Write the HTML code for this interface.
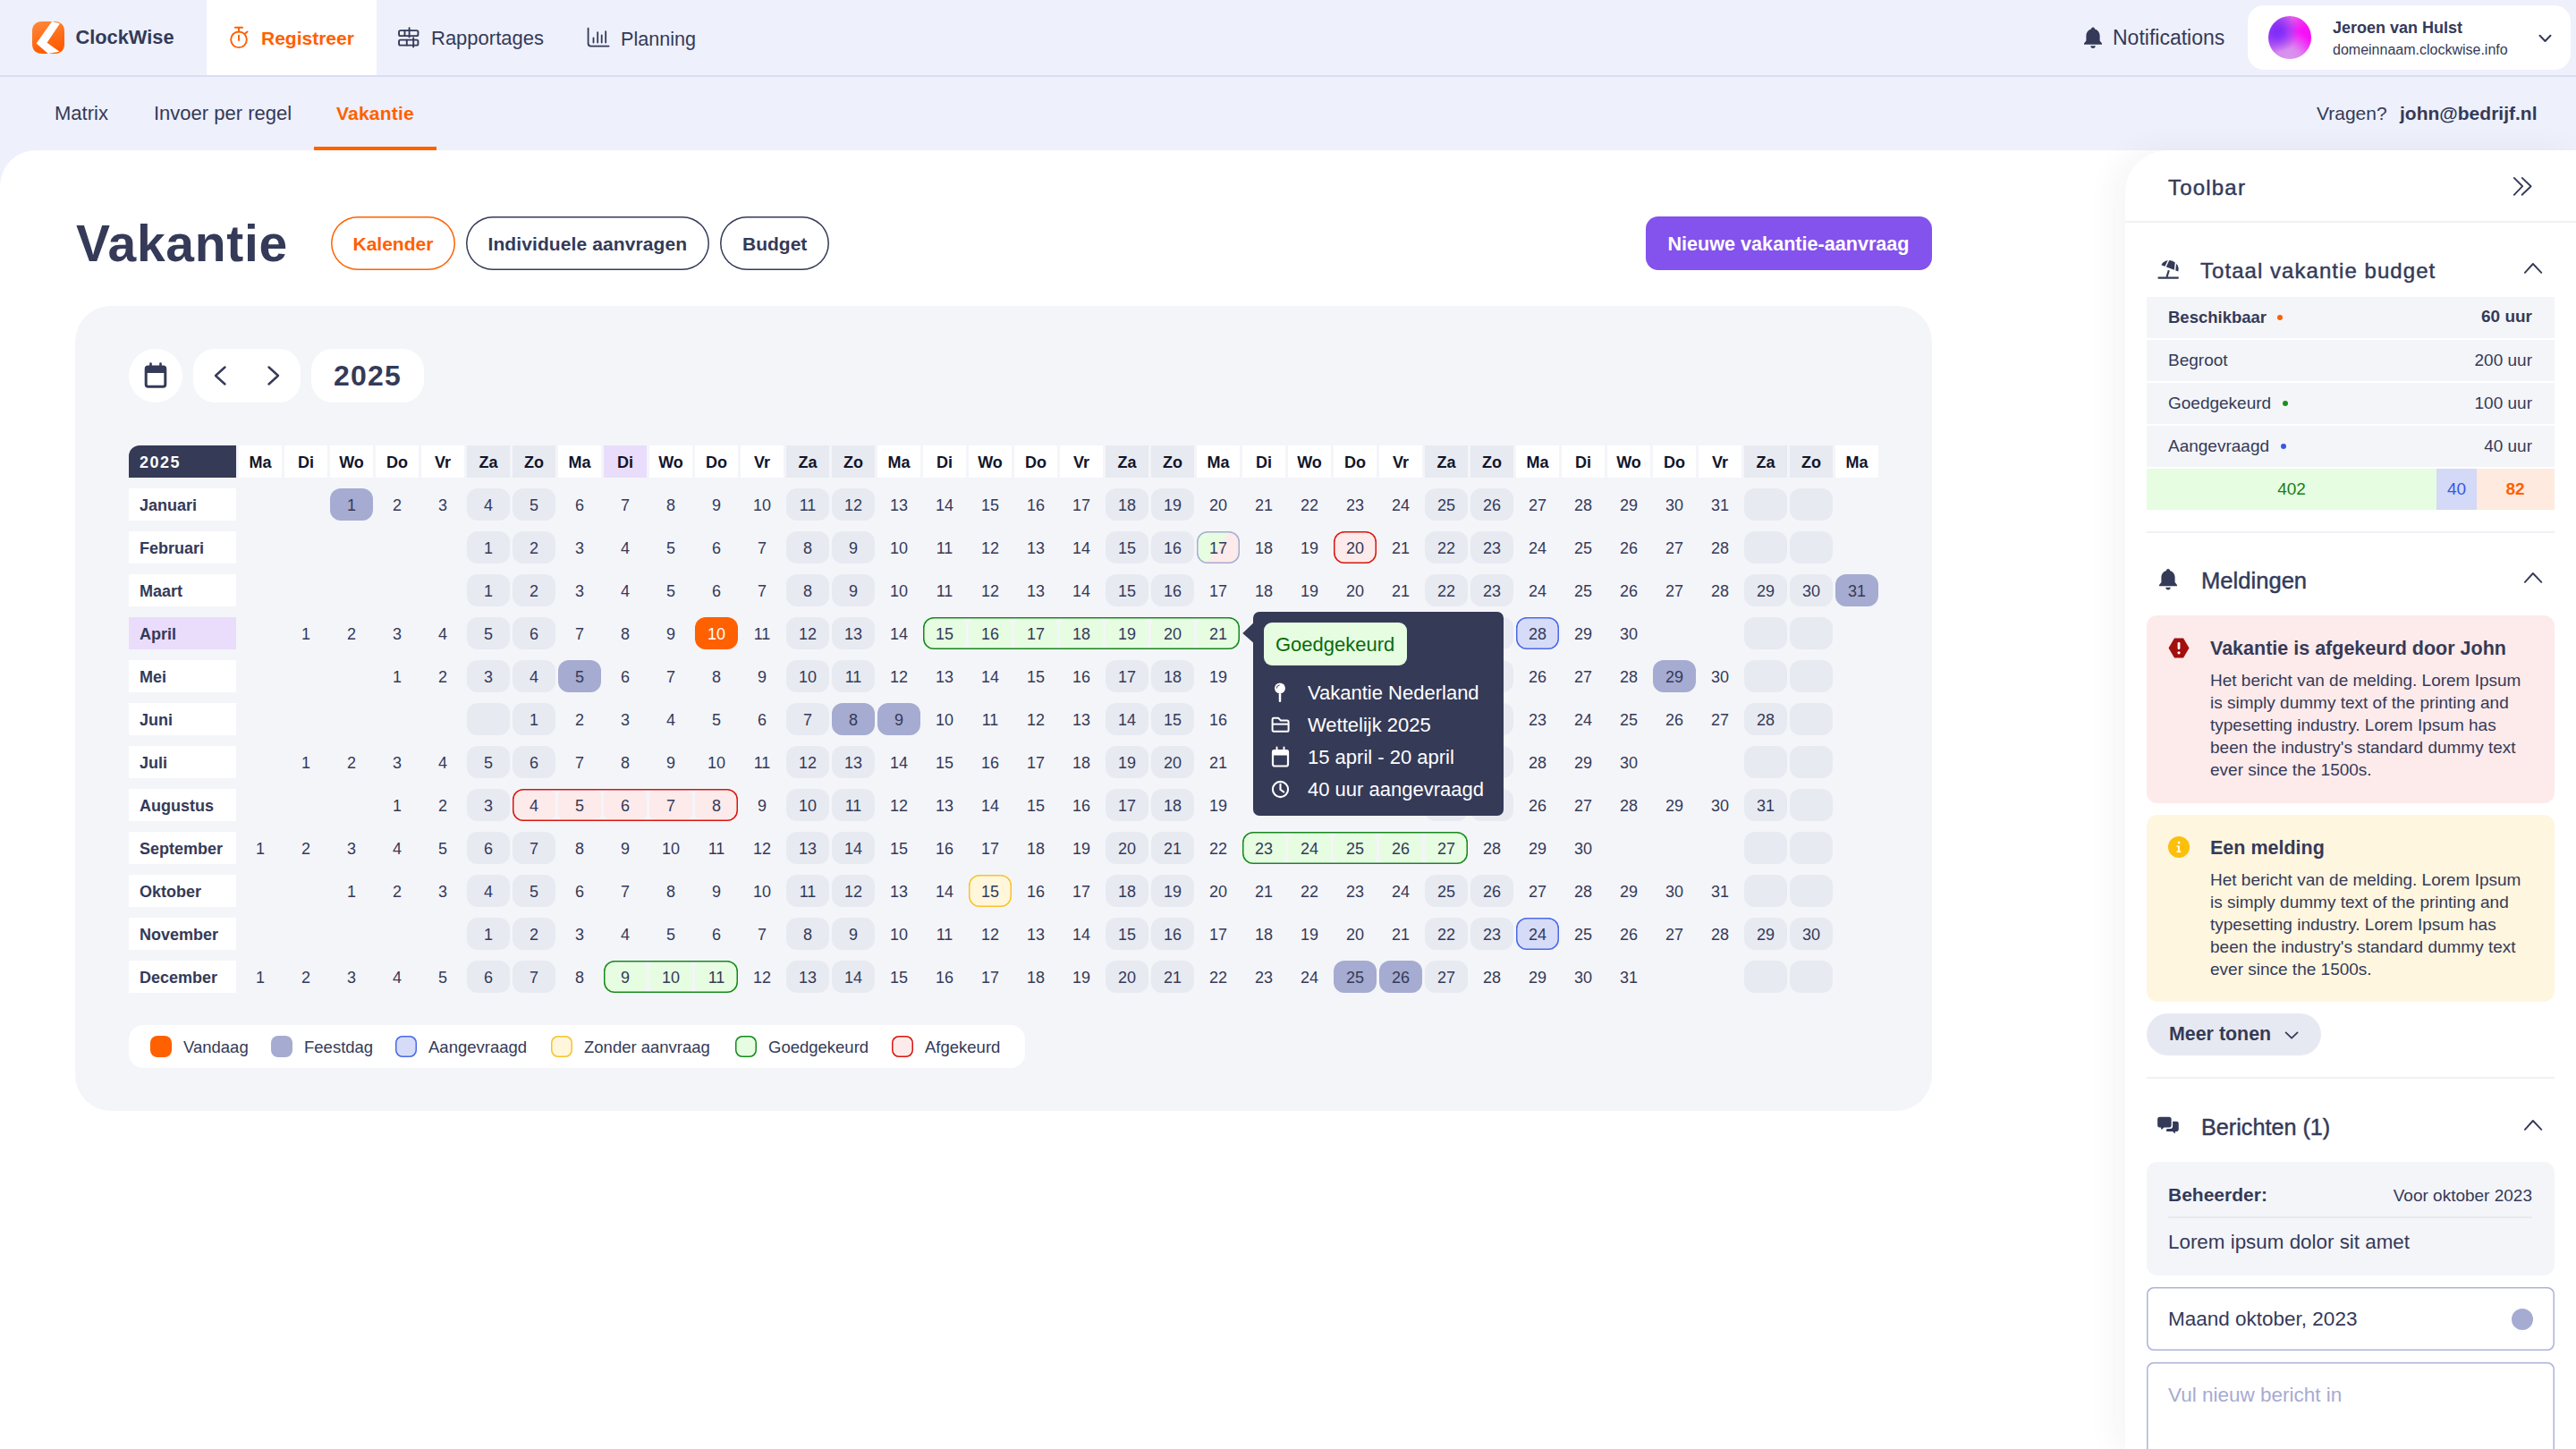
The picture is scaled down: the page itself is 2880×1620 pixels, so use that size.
<!DOCTYPE html>
<html><head><meta charset="utf-8"><title>ClockWise Vakantie</title>
<style>
html,body{margin:0;padding:0;overflow:hidden;}
body{width:2880px;height:1620px;overflow:hidden;position:relative;background:#fff;font-family:"Liberation Sans",sans-serif;color:#343a58;}
.a{position:absolute;box-sizing:border-box;}
.t{position:absolute;white-space:nowrap;}
.c{position:absolute;box-sizing:border-box;width:48px;height:36px;border-radius:12px;display:flex;align-items:center;justify-content:center;font-size:18px;color:#343a58;padding-top:2px;}
svg{position:absolute;overflow:visible;}
</style></head><body>

<div class="a" style="left:0px;top:0px;width:2880px;height:260px;background:#eef0fb;"></div>
<div class="a" style="left:0px;top:84px;width:2880px;height:2px;background:#d9def6;"></div>
<div class="a" style="left:231px;top:0px;width:190px;height:84px;background:#fff;"></div>
<svg style="left:36px;top:24px" width="36" height="36" viewBox="0 0 36 36">
<defs><linearGradient id="lg" x1="0" y1="0" x2="0.3" y2="1"><stop offset="0" stop-color="#ff8a3d"/><stop offset="1" stop-color="#ff5a00"/></linearGradient></defs>
<path d="M11 0H25C32 0 36 4 36 11V25C36 32 32 36 25 36H11C4 36 0 32 0 25V11C0 4 4 0 11 0Z" fill="url(#lg)"/>
<path d="M22 0L31 2.3L16.6 23.7L30.6 33.8L17.8 36L4.6 24.4Z" fill="#fff"/>
</svg>
<div class="t" style="left:84.5px;top:28.35px;font-size:21.8px;line-height:27px;font-weight:700;color:#343a58;">ClockWise</div>
<svg style="left:245px;top:20px" width="40" height="40" viewBox="0 0 40 40" fill="none" stroke="#ff6000" stroke-width="1.9" stroke-linecap="round">
<circle cx="22" cy="24.3" r="8.85"/><path d="M17.9 10.7H26M22 10.7V15.5M22 19.6V25M29.2 17.2L31.6 15.4"/></svg>
<div class="t" style="left:292px;top:29.72px;font-size:21px;line-height:26px;font-weight:700;color:#ff6000;">Registreer</div>
<svg style="left:444px;top:30px" width="26" height="24" viewBox="0 0 26 24" fill="none" stroke="#343a58" stroke-width="1.9" stroke-linecap="round">
<rect x="2.05" y="4.1" width="21.4" height="6" rx="1.6"/><rect x="2.05" y="14.6" width="21.4" height="6" rx="1.6"/><path d="M8.5 4.1V10.1M13.6 1.2V11.4M10.8 14.6V20.6M18.2 12.2V22.6"/></svg>
<div class="t" style="left:482px;top:29.38px;font-size:22px;line-height:28px;font-weight:400;color:#343a58;">Rapportages</div>
<svg style="left:645px;top:20px" width="40" height="40" viewBox="0 0 40 40" fill="none" stroke="#343a58" stroke-width="1.8" stroke-linecap="round">
<path d="M12.6 11.6V28.6Q12.6 31.6 15.6 31.6H35.6"/><path d="M18.5 22.3V27.5M23.2 16.2V27.5M27.7 19.3V27.5M32.2 15.1V27.5"/></svg>
<div class="t" style="left:694px;top:30.02px;font-size:21.6px;line-height:27px;font-weight:400;color:#343a58;">Planning</div>
<svg style="left:2328px;top:29px" width="24" height="26" viewBox="0 0 24 26">
<path d="M12 1.5C13.2 1.5 14 2.4 14 3.4C17.5 4.4 19.6 7.4 19.6 11V16.5L22 19.6V20.8H2V19.6L4.4 16.5V11C4.4 7.4 6.5 4.4 10 3.4C10 2.4 10.8 1.5 12 1.5Z" fill="#343a58"/>
<path d="M9.2 22.3H14.8C14.8 23.9 13.5 25 12 25C10.5 25 9.2 23.9 9.2 22.3Z" fill="#343a58"/></svg>
<div class="t" style="left:2362px;top:27.83px;font-size:23px;line-height:29px;font-weight:400;color:#343a58;">Notifications</div>
<div class="a" style="left:2513px;top:6px;width:361px;height:72px;background:#fff;border-radius:18px;"></div>
<div class="a" style="left:2536px;top:18px;width:48px;height:48px;border-radius:50%;background:radial-gradient(circle at 22% 36%, #7d2cf9 0%, rgba(125,44,249,0.85) 14%, rgba(125,44,249,0) 48%), radial-gradient(circle at 48% 100%, #d993ef 0%, rgba(217,147,239,0.9) 22%, rgba(217,147,239,0) 60%), radial-gradient(circle at 88% 52%, #f80cf8 0%, rgba(248,12,248,0.9) 20%, rgba(248,12,248,0) 55%), linear-gradient(90deg,#b84cf2 0%, #e45ee9 55%, #f42cf6 100%);"></div>
<div class="t" style="left:2608px;top:20.26px;font-size:18px;line-height:22px;font-weight:700;color:#343a58;">Jeroen van Hulst</div>
<div class="t" style="left:2608px;top:46.46px;font-size:16px;line-height:20px;font-weight:400;color:#343a58;">domeinnaam.clockwise.info</div>
<svg style="left:2838px;top:38px" width="15" height="10" viewBox="0 0 15 10" fill="none" stroke="#343a58" stroke-width="2" stroke-linecap="round" stroke-linejoin="round"><path d="M1.5 1.8L7.5 8L13.5 1.8"/></svg>
<div class="t" style="left:61px;top:113.18px;font-size:22px;line-height:28px;font-weight:400;color:#343a58;">Matrix</div>
<div class="t" style="left:172px;top:113.18px;font-size:22px;line-height:28px;font-weight:400;color:#343a58;">Invoer per regel</div>
<div class="t" style="left:376px;top:113.62px;font-size:21px;line-height:26px;font-weight:700;color:#ff6000;letter-spacing:0.2px;">Vakantie</div>
<div class="a" style="left:351px;top:164px;width:137px;height:4px;background:#ff6000;"></div>
<div class="t" style="left:2590px;top:113.62px;font-size:21px;line-height:26px;font-weight:400;color:#343a58;">Vragen?</div>
<div class="t" style="left:2683px;top:113.62px;font-size:21px;line-height:26px;font-weight:700;color:#343a58;">john@bedrijf.nl</div>
<div class="a" style="left:0px;top:168px;width:2880px;height:1452px;background:#fff;border-top-left-radius:40px;"></div>
<div class="t" style="left:85px;top:236.75px;font-size:57px;line-height:71px;font-weight:700;color:#343a58;letter-spacing:0.7px;">Vakantie</div>
<div class="a" style="left:370px;top:242px;width:139px;height:60px;box-shadow:inset 0 0 0 1.5px #ff6000;border-radius:30px;"></div>
<div class="t" style="left:394.5px;top:260.22px;font-size:21px;line-height:26px;font-weight:700;color:#ff6000;">Kalender</div>
<div class="a" style="left:521px;top:242px;width:272px;height:60px;box-shadow:inset 0 0 0 1.5px #343a58;border-radius:30px;"></div>
<div class="t" style="left:545.5px;top:260.22px;font-size:21px;line-height:26px;font-weight:700;color:#343a58;letter-spacing:0.1px;">Individuele aanvragen</div>
<div class="a" style="left:805px;top:242px;width:122px;height:60px;box-shadow:inset 0 0 0 1.5px #343a58;border-radius:30px;"></div>
<div class="t" style="left:830px;top:260.22px;font-size:21px;line-height:26px;font-weight:700;color:#343a58;">Budget</div>
<div class="a" style="left:1840px;top:242px;width:320px;height:60px;background:#8452ec;border-radius:14px;"></div>
<div class="t" style="left:1864.5px;top:259.22px;font-size:21.6px;line-height:27px;font-weight:700;color:#fff;">Nieuwe vakantie-aanvraag</div>
<div class="a" style="left:84px;top:342px;width:2076px;height:900px;background:#f4f5f9;border-radius:40px;"></div>
<div class="a" style="left:144px;top:390px;width:60px;height:60px;background:#fff;border-radius:30px;"></div>
<svg style="left:161px;top:406px" width="26" height="28" viewBox="0 0 26 28">
<path d="M7.5 0.5V5M18.5 0.5V5" stroke="#343a58" stroke-width="2.6" stroke-linecap="round"/>
<rect x="2.2" y="4" width="21.6" height="22.2" rx="2.5" fill="none" stroke="#343a58" stroke-width="3"/>
<rect x="1" y="4" width="24" height="7" rx="2" fill="#343a58"/></svg>
<div class="a" style="left:216px;top:390px;width:120px;height:60px;background:#fff;border-radius:24px;"></div>
<svg style="left:238px;top:408px" width="16" height="24" viewBox="0 0 16 24" fill="none" stroke="#343a58" stroke-width="2.4" stroke-linecap="round" stroke-linejoin="round"><path d="M13.5 2.5L3 12L13.5 21.5"/></svg>
<svg style="left:298px;top:408px" width="16" height="24" viewBox="0 0 16 24" fill="none" stroke="#343a58" stroke-width="2.4" stroke-linecap="round" stroke-linejoin="round"><path d="M2.5 2.5L13 12L2.5 21.5"/></svg>
<div class="a" style="left:348px;top:390px;width:126px;height:60px;background:#fff;border-radius:24px;"></div>
<div class="t" style="left:373px;top:400.41px;font-size:32px;line-height:40px;font-weight:700;color:#343a58;letter-spacing:1.2px;">2025</div>
<div class="a" style="left:144px;top:498px;width:120px;height:36px;background:#353a57;border-top-left-radius:12px;"></div>
<div class="t" style="left:156px;top:505.76px;font-size:18px;line-height:22px;font-weight:700;color:#fff;letter-spacing:1.5px;">2025</div>
<div class="c" style="left:267px;top:498px;border-radius:0;background:#fff;font-weight:700;color:#12152a;">Ma</div>
<div class="c" style="left:318px;top:498px;border-radius:0;background:#fff;font-weight:700;color:#12152a;">Di</div>
<div class="c" style="left:369px;top:498px;border-radius:0;background:#fff;font-weight:700;color:#12152a;">Wo</div>
<div class="c" style="left:420px;top:498px;border-radius:0;background:#fff;font-weight:700;color:#12152a;">Do</div>
<div class="c" style="left:471px;top:498px;border-radius:0;background:#fff;font-weight:700;color:#12152a;">Vr</div>
<div class="c" style="left:522px;top:498px;border-radius:0;background:#e8eaf1;font-weight:700;color:#12152a;">Za</div>
<div class="c" style="left:573px;top:498px;border-radius:0;background:#e8eaf1;font-weight:700;color:#12152a;">Zo</div>
<div class="c" style="left:624px;top:498px;border-radius:0;background:#fff;font-weight:700;color:#12152a;">Ma</div>
<div class="c" style="left:675px;top:498px;border-radius:0;background:#e9ddfb;font-weight:700;color:#12152a;">Di</div>
<div class="c" style="left:726px;top:498px;border-radius:0;background:#fff;font-weight:700;color:#12152a;">Wo</div>
<div class="c" style="left:777px;top:498px;border-radius:0;background:#fff;font-weight:700;color:#12152a;">Do</div>
<div class="c" style="left:828px;top:498px;border-radius:0;background:#fff;font-weight:700;color:#12152a;">Vr</div>
<div class="c" style="left:879px;top:498px;border-radius:0;background:#e8eaf1;font-weight:700;color:#12152a;">Za</div>
<div class="c" style="left:930px;top:498px;border-radius:0;background:#e8eaf1;font-weight:700;color:#12152a;">Zo</div>
<div class="c" style="left:981px;top:498px;border-radius:0;background:#fff;font-weight:700;color:#12152a;">Ma</div>
<div class="c" style="left:1032px;top:498px;border-radius:0;background:#fff;font-weight:700;color:#12152a;">Di</div>
<div class="c" style="left:1083px;top:498px;border-radius:0;background:#fff;font-weight:700;color:#12152a;">Wo</div>
<div class="c" style="left:1134px;top:498px;border-radius:0;background:#fff;font-weight:700;color:#12152a;">Do</div>
<div class="c" style="left:1185px;top:498px;border-radius:0;background:#fff;font-weight:700;color:#12152a;">Vr</div>
<div class="c" style="left:1236px;top:498px;border-radius:0;background:#e8eaf1;font-weight:700;color:#12152a;">Za</div>
<div class="c" style="left:1287px;top:498px;border-radius:0;background:#e8eaf1;font-weight:700;color:#12152a;">Zo</div>
<div class="c" style="left:1338px;top:498px;border-radius:0;background:#fff;font-weight:700;color:#12152a;">Ma</div>
<div class="c" style="left:1389px;top:498px;border-radius:0;background:#fff;font-weight:700;color:#12152a;">Di</div>
<div class="c" style="left:1440px;top:498px;border-radius:0;background:#fff;font-weight:700;color:#12152a;">Wo</div>
<div class="c" style="left:1491px;top:498px;border-radius:0;background:#fff;font-weight:700;color:#12152a;">Do</div>
<div class="c" style="left:1542px;top:498px;border-radius:0;background:#fff;font-weight:700;color:#12152a;">Vr</div>
<div class="c" style="left:1593px;top:498px;border-radius:0;background:#e8eaf1;font-weight:700;color:#12152a;">Za</div>
<div class="c" style="left:1644px;top:498px;border-radius:0;background:#e8eaf1;font-weight:700;color:#12152a;">Zo</div>
<div class="c" style="left:1695px;top:498px;border-radius:0;background:#fff;font-weight:700;color:#12152a;">Ma</div>
<div class="c" style="left:1746px;top:498px;border-radius:0;background:#fff;font-weight:700;color:#12152a;">Di</div>
<div class="c" style="left:1797px;top:498px;border-radius:0;background:#fff;font-weight:700;color:#12152a;">Wo</div>
<div class="c" style="left:1848px;top:498px;border-radius:0;background:#fff;font-weight:700;color:#12152a;">Do</div>
<div class="c" style="left:1899px;top:498px;border-radius:0;background:#fff;font-weight:700;color:#12152a;">Vr</div>
<div class="c" style="left:1950px;top:498px;border-radius:0;background:#e8eaf1;font-weight:700;color:#12152a;">Za</div>
<div class="c" style="left:2001px;top:498px;border-radius:0;background:#e8eaf1;font-weight:700;color:#12152a;">Zo</div>
<div class="c" style="left:2052px;top:498px;border-radius:0;background:#fff;font-weight:700;color:#12152a;">Ma</div>
<div class="a" style="left:144px;top:546px;width:120px;height:36px;background:#fff;"></div>
<div class="t" style="left:156px;top:553.76px;font-size:18px;line-height:22px;font-weight:700;color:#343a58;">Januari</div>
<div class="c" style="left:369px;top:546px;background:#a6abd1;">1</div>
<div class="c" style="left:420px;top:546px;">2</div>
<div class="c" style="left:471px;top:546px;">3</div>
<div class="c" style="left:522px;top:546px;background:#e8eaf2;">4</div>
<div class="c" style="left:573px;top:546px;background:#e8eaf2;">5</div>
<div class="c" style="left:624px;top:546px;">6</div>
<div class="c" style="left:675px;top:546px;">7</div>
<div class="c" style="left:726px;top:546px;">8</div>
<div class="c" style="left:777px;top:546px;">9</div>
<div class="c" style="left:828px;top:546px;">10</div>
<div class="c" style="left:879px;top:546px;background:#e8eaf2;">11</div>
<div class="c" style="left:930px;top:546px;background:#e8eaf2;">12</div>
<div class="c" style="left:981px;top:546px;">13</div>
<div class="c" style="left:1032px;top:546px;">14</div>
<div class="c" style="left:1083px;top:546px;">15</div>
<div class="c" style="left:1134px;top:546px;">16</div>
<div class="c" style="left:1185px;top:546px;">17</div>
<div class="c" style="left:1236px;top:546px;background:#e8eaf2;">18</div>
<div class="c" style="left:1287px;top:546px;background:#e8eaf2;">19</div>
<div class="c" style="left:1338px;top:546px;">20</div>
<div class="c" style="left:1389px;top:546px;">21</div>
<div class="c" style="left:1440px;top:546px;">22</div>
<div class="c" style="left:1491px;top:546px;">23</div>
<div class="c" style="left:1542px;top:546px;">24</div>
<div class="c" style="left:1593px;top:546px;background:#e8eaf2;">25</div>
<div class="c" style="left:1644px;top:546px;background:#e8eaf2;">26</div>
<div class="c" style="left:1695px;top:546px;">27</div>
<div class="c" style="left:1746px;top:546px;">28</div>
<div class="c" style="left:1797px;top:546px;">29</div>
<div class="c" style="left:1848px;top:546px;">30</div>
<div class="c" style="left:1899px;top:546px;">31</div>
<div class="c" style="left:1950px;top:546px;background:#e8eaf2;"></div>
<div class="c" style="left:2001px;top:546px;background:#e8eaf2;"></div>
<div class="a" style="left:144px;top:594px;width:120px;height:36px;background:#fff;"></div>
<div class="t" style="left:156px;top:601.76px;font-size:18px;line-height:22px;font-weight:700;color:#343a58;">Februari</div>
<div class="c" style="left:522px;top:594px;background:#e8eaf2;">1</div>
<div class="c" style="left:573px;top:594px;background:#e8eaf2;">2</div>
<div class="c" style="left:624px;top:594px;">3</div>
<div class="c" style="left:675px;top:594px;">4</div>
<div class="c" style="left:726px;top:594px;">5</div>
<div class="c" style="left:777px;top:594px;">6</div>
<div class="c" style="left:828px;top:594px;">7</div>
<div class="c" style="left:879px;top:594px;background:#e8eaf2;">8</div>
<div class="c" style="left:930px;top:594px;background:#e8eaf2;">9</div>
<div class="c" style="left:981px;top:594px;">10</div>
<div class="c" style="left:1032px;top:594px;">11</div>
<div class="c" style="left:1083px;top:594px;">12</div>
<div class="c" style="left:1134px;top:594px;">13</div>
<div class="c" style="left:1185px;top:594px;">14</div>
<div class="c" style="left:1236px;top:594px;background:#e8eaf2;">15</div>
<div class="c" style="left:1287px;top:594px;background:#e8eaf2;">16</div>
<div class="c" style="left:1338px;top:594px;background:linear-gradient(127deg,#e6fde1 50%,#fdeaea 50%);box-shadow:inset 0 0 0 1.5px #a6acd2;">17</div>
<div class="c" style="left:1389px;top:594px;">18</div>
<div class="c" style="left:1440px;top:594px;">19</div>
<div class="c" style="left:1491px;top:594px;background:#fdeaea;box-shadow:inset 0 0 0 1.5px #d8160e;">20</div>
<div class="c" style="left:1542px;top:594px;">21</div>
<div class="c" style="left:1593px;top:594px;background:#e8eaf2;">22</div>
<div class="c" style="left:1644px;top:594px;background:#e8eaf2;">23</div>
<div class="c" style="left:1695px;top:594px;">24</div>
<div class="c" style="left:1746px;top:594px;">25</div>
<div class="c" style="left:1797px;top:594px;">26</div>
<div class="c" style="left:1848px;top:594px;">27</div>
<div class="c" style="left:1899px;top:594px;">28</div>
<div class="c" style="left:1950px;top:594px;background:#e8eaf2;"></div>
<div class="c" style="left:2001px;top:594px;background:#e8eaf2;"></div>
<div class="a" style="left:144px;top:642px;width:120px;height:36px;background:#fff;"></div>
<div class="t" style="left:156px;top:649.76px;font-size:18px;line-height:22px;font-weight:700;color:#343a58;">Maart</div>
<div class="c" style="left:522px;top:642px;background:#e8eaf2;">1</div>
<div class="c" style="left:573px;top:642px;background:#e8eaf2;">2</div>
<div class="c" style="left:624px;top:642px;">3</div>
<div class="c" style="left:675px;top:642px;">4</div>
<div class="c" style="left:726px;top:642px;">5</div>
<div class="c" style="left:777px;top:642px;">6</div>
<div class="c" style="left:828px;top:642px;">7</div>
<div class="c" style="left:879px;top:642px;background:#e8eaf2;">8</div>
<div class="c" style="left:930px;top:642px;background:#e8eaf2;">9</div>
<div class="c" style="left:981px;top:642px;">10</div>
<div class="c" style="left:1032px;top:642px;">11</div>
<div class="c" style="left:1083px;top:642px;">12</div>
<div class="c" style="left:1134px;top:642px;">13</div>
<div class="c" style="left:1185px;top:642px;">14</div>
<div class="c" style="left:1236px;top:642px;background:#e8eaf2;">15</div>
<div class="c" style="left:1287px;top:642px;background:#e8eaf2;">16</div>
<div class="c" style="left:1338px;top:642px;">17</div>
<div class="c" style="left:1389px;top:642px;">18</div>
<div class="c" style="left:1440px;top:642px;">19</div>
<div class="c" style="left:1491px;top:642px;">20</div>
<div class="c" style="left:1542px;top:642px;">21</div>
<div class="c" style="left:1593px;top:642px;background:#e8eaf2;">22</div>
<div class="c" style="left:1644px;top:642px;background:#e8eaf2;">23</div>
<div class="c" style="left:1695px;top:642px;">24</div>
<div class="c" style="left:1746px;top:642px;">25</div>
<div class="c" style="left:1797px;top:642px;">26</div>
<div class="c" style="left:1848px;top:642px;">27</div>
<div class="c" style="left:1899px;top:642px;">28</div>
<div class="c" style="left:1950px;top:642px;background:#e8eaf2;">29</div>
<div class="c" style="left:2001px;top:642px;background:#e8eaf2;">30</div>
<div class="c" style="left:2052px;top:642px;background:#a6abd1;">31</div>
<div class="a" style="left:144px;top:690px;width:120px;height:36px;background:#e9ddfb;"></div>
<div class="t" style="left:156px;top:697.76px;font-size:18px;line-height:22px;font-weight:700;color:#343a58;">April</div>
<div class="c" style="left:318px;top:690px;">1</div>
<div class="c" style="left:369px;top:690px;">2</div>
<div class="c" style="left:420px;top:690px;">3</div>
<div class="c" style="left:471px;top:690px;">4</div>
<div class="c" style="left:522px;top:690px;background:#e8eaf2;">5</div>
<div class="c" style="left:573px;top:690px;background:#e8eaf2;">6</div>
<div class="c" style="left:624px;top:690px;">7</div>
<div class="c" style="left:675px;top:690px;">8</div>
<div class="c" style="left:726px;top:690px;">9</div>
<div class="c" style="left:777px;top:690px;background:#ff6000;color:#fff;">10</div>
<div class="c" style="left:828px;top:690px;">11</div>
<div class="c" style="left:879px;top:690px;background:#e8eaf2;">12</div>
<div class="c" style="left:930px;top:690px;background:#e8eaf2;">13</div>
<div class="c" style="left:981px;top:690px;">14</div>
<div class="c" style="left:1032px;top:692px;height:32px;background:#e6fde1;border-radius:6px;">15</div>
<div class="c" style="left:1083px;top:692px;height:32px;background:#e6fde1;border-radius:6px;">16</div>
<div class="c" style="left:1134px;top:692px;height:32px;background:#e6fde1;border-radius:6px;">17</div>
<div class="c" style="left:1185px;top:692px;height:32px;background:#e6fde1;border-radius:6px;">18</div>
<div class="c" style="left:1236px;top:692px;height:32px;background:#e6fde1;border-radius:6px;">19</div>
<div class="c" style="left:1287px;top:692px;height:32px;background:#e6fde1;border-radius:6px;">20</div>
<div class="c" style="left:1338px;top:692px;height:32px;background:#e6fde1;border-radius:6px;">21</div>
<div class="c" style="left:1389px;top:690px;">22</div>
<div class="c" style="left:1440px;top:690px;">23</div>
<div class="c" style="left:1491px;top:690px;">24</div>
<div class="c" style="left:1542px;top:690px;">25</div>
<div class="c" style="left:1593px;top:690px;background:#e8eaf2;">26</div>
<div class="c" style="left:1644px;top:690px;background:#e8eaf2;">27</div>
<div class="c" style="left:1695px;top:690px;background:#d6dcf7;box-shadow:inset 0 0 0 1.5px #4a69e9;">28</div>
<div class="c" style="left:1746px;top:690px;">29</div>
<div class="c" style="left:1797px;top:690px;">30</div>
<div class="c" style="left:1950px;top:690px;background:#e8eaf2;"></div>
<div class="c" style="left:2001px;top:690px;background:#e8eaf2;"></div>
<div class="a" style="left:1032px;top:690px;width:354px;height:36px;box-shadow:inset 0 0 0 1.5px #14891a;border-radius:12px;"></div>
<div class="a" style="left:144px;top:738px;width:120px;height:36px;background:#fff;"></div>
<div class="t" style="left:156px;top:745.76px;font-size:18px;line-height:22px;font-weight:700;color:#343a58;">Mei</div>
<div class="c" style="left:420px;top:738px;">1</div>
<div class="c" style="left:471px;top:738px;">2</div>
<div class="c" style="left:522px;top:738px;background:#e8eaf2;">3</div>
<div class="c" style="left:573px;top:738px;background:#e8eaf2;">4</div>
<div class="c" style="left:624px;top:738px;background:#a6abd1;">5</div>
<div class="c" style="left:675px;top:738px;">6</div>
<div class="c" style="left:726px;top:738px;">7</div>
<div class="c" style="left:777px;top:738px;">8</div>
<div class="c" style="left:828px;top:738px;">9</div>
<div class="c" style="left:879px;top:738px;background:#e8eaf2;">10</div>
<div class="c" style="left:930px;top:738px;background:#e8eaf2;">11</div>
<div class="c" style="left:981px;top:738px;">12</div>
<div class="c" style="left:1032px;top:738px;">13</div>
<div class="c" style="left:1083px;top:738px;">14</div>
<div class="c" style="left:1134px;top:738px;">15</div>
<div class="c" style="left:1185px;top:738px;">16</div>
<div class="c" style="left:1236px;top:738px;background:#e8eaf2;">17</div>
<div class="c" style="left:1287px;top:738px;background:#e8eaf2;">18</div>
<div class="c" style="left:1338px;top:738px;">19</div>
<div class="c" style="left:1389px;top:738px;">20</div>
<div class="c" style="left:1440px;top:738px;">21</div>
<div class="c" style="left:1491px;top:738px;">22</div>
<div class="c" style="left:1542px;top:738px;">23</div>
<div class="c" style="left:1593px;top:738px;background:#e8eaf2;">24</div>
<div class="c" style="left:1644px;top:738px;background:#e8eaf2;">25</div>
<div class="c" style="left:1695px;top:738px;">26</div>
<div class="c" style="left:1746px;top:738px;">27</div>
<div class="c" style="left:1797px;top:738px;">28</div>
<div class="c" style="left:1848px;top:738px;background:#a6abd1;">29</div>
<div class="c" style="left:1899px;top:738px;">30</div>
<div class="c" style="left:1950px;top:738px;background:#e8eaf2;"></div>
<div class="c" style="left:2001px;top:738px;background:#e8eaf2;"></div>
<div class="a" style="left:144px;top:786px;width:120px;height:36px;background:#fff;"></div>
<div class="t" style="left:156px;top:793.76px;font-size:18px;line-height:22px;font-weight:700;color:#343a58;">Juni</div>
<div class="c" style="left:522px;top:786px;background:#e8eaf2;"></div>
<div class="c" style="left:573px;top:786px;background:#e8eaf2;">1</div>
<div class="c" style="left:624px;top:786px;">2</div>
<div class="c" style="left:675px;top:786px;">3</div>
<div class="c" style="left:726px;top:786px;">4</div>
<div class="c" style="left:777px;top:786px;">5</div>
<div class="c" style="left:828px;top:786px;">6</div>
<div class="c" style="left:879px;top:786px;background:#e8eaf2;">7</div>
<div class="c" style="left:930px;top:786px;background:#a6abd1;">8</div>
<div class="c" style="left:981px;top:786px;background:#a6abd1;">9</div>
<div class="c" style="left:1032px;top:786px;">10</div>
<div class="c" style="left:1083px;top:786px;">11</div>
<div class="c" style="left:1134px;top:786px;">12</div>
<div class="c" style="left:1185px;top:786px;">13</div>
<div class="c" style="left:1236px;top:786px;background:#e8eaf2;">14</div>
<div class="c" style="left:1287px;top:786px;background:#e8eaf2;">15</div>
<div class="c" style="left:1338px;top:786px;">16</div>
<div class="c" style="left:1389px;top:786px;">17</div>
<div class="c" style="left:1440px;top:786px;">18</div>
<div class="c" style="left:1491px;top:786px;">19</div>
<div class="c" style="left:1542px;top:786px;">20</div>
<div class="c" style="left:1593px;top:786px;background:#e8eaf2;">21</div>
<div class="c" style="left:1644px;top:786px;background:#e8eaf2;">22</div>
<div class="c" style="left:1695px;top:786px;">23</div>
<div class="c" style="left:1746px;top:786px;">24</div>
<div class="c" style="left:1797px;top:786px;">25</div>
<div class="c" style="left:1848px;top:786px;">26</div>
<div class="c" style="left:1899px;top:786px;">27</div>
<div class="c" style="left:1950px;top:786px;background:#e8eaf2;">28</div>
<div class="c" style="left:2001px;top:786px;background:#e8eaf2;"></div>
<div class="a" style="left:144px;top:834px;width:120px;height:36px;background:#fff;"></div>
<div class="t" style="left:156px;top:841.76px;font-size:18px;line-height:22px;font-weight:700;color:#343a58;">Juli</div>
<div class="c" style="left:318px;top:834px;">1</div>
<div class="c" style="left:369px;top:834px;">2</div>
<div class="c" style="left:420px;top:834px;">3</div>
<div class="c" style="left:471px;top:834px;">4</div>
<div class="c" style="left:522px;top:834px;background:#e8eaf2;">5</div>
<div class="c" style="left:573px;top:834px;background:#e8eaf2;">6</div>
<div class="c" style="left:624px;top:834px;">7</div>
<div class="c" style="left:675px;top:834px;">8</div>
<div class="c" style="left:726px;top:834px;">9</div>
<div class="c" style="left:777px;top:834px;">10</div>
<div class="c" style="left:828px;top:834px;">11</div>
<div class="c" style="left:879px;top:834px;background:#e8eaf2;">12</div>
<div class="c" style="left:930px;top:834px;background:#e8eaf2;">13</div>
<div class="c" style="left:981px;top:834px;">14</div>
<div class="c" style="left:1032px;top:834px;">15</div>
<div class="c" style="left:1083px;top:834px;">16</div>
<div class="c" style="left:1134px;top:834px;">17</div>
<div class="c" style="left:1185px;top:834px;">18</div>
<div class="c" style="left:1236px;top:834px;background:#e8eaf2;">19</div>
<div class="c" style="left:1287px;top:834px;background:#e8eaf2;">20</div>
<div class="c" style="left:1338px;top:834px;">21</div>
<div class="c" style="left:1389px;top:834px;">22</div>
<div class="c" style="left:1440px;top:834px;">23</div>
<div class="c" style="left:1491px;top:834px;">24</div>
<div class="c" style="left:1542px;top:834px;">25</div>
<div class="c" style="left:1593px;top:834px;background:#e8eaf2;">26</div>
<div class="c" style="left:1644px;top:834px;background:#e8eaf2;">27</div>
<div class="c" style="left:1695px;top:834px;">28</div>
<div class="c" style="left:1746px;top:834px;">29</div>
<div class="c" style="left:1797px;top:834px;">30</div>
<div class="c" style="left:1950px;top:834px;background:#e8eaf2;"></div>
<div class="c" style="left:2001px;top:834px;background:#e8eaf2;"></div>
<div class="a" style="left:144px;top:882px;width:120px;height:36px;background:#fff;"></div>
<div class="t" style="left:156px;top:889.76px;font-size:18px;line-height:22px;font-weight:700;color:#343a58;">Augustus</div>
<div class="c" style="left:420px;top:882px;">1</div>
<div class="c" style="left:471px;top:882px;">2</div>
<div class="c" style="left:522px;top:882px;background:#e8eaf2;">3</div>
<div class="c" style="left:573px;top:884px;height:32px;background:#fdeaea;border-radius:6px;">4</div>
<div class="c" style="left:624px;top:884px;height:32px;background:#fdeaea;border-radius:6px;">5</div>
<div class="c" style="left:675px;top:884px;height:32px;background:#fdeaea;border-radius:6px;">6</div>
<div class="c" style="left:726px;top:884px;height:32px;background:#fdeaea;border-radius:6px;">7</div>
<div class="c" style="left:777px;top:884px;height:32px;background:#fdeaea;border-radius:6px;">8</div>
<div class="c" style="left:828px;top:882px;">9</div>
<div class="c" style="left:879px;top:882px;background:#e8eaf2;">10</div>
<div class="c" style="left:930px;top:882px;background:#e8eaf2;">11</div>
<div class="c" style="left:981px;top:882px;">12</div>
<div class="c" style="left:1032px;top:882px;">13</div>
<div class="c" style="left:1083px;top:882px;">14</div>
<div class="c" style="left:1134px;top:882px;">15</div>
<div class="c" style="left:1185px;top:882px;">16</div>
<div class="c" style="left:1236px;top:882px;background:#e8eaf2;">17</div>
<div class="c" style="left:1287px;top:882px;background:#e8eaf2;">18</div>
<div class="c" style="left:1338px;top:882px;">19</div>
<div class="c" style="left:1389px;top:882px;">20</div>
<div class="c" style="left:1440px;top:882px;">21</div>
<div class="c" style="left:1491px;top:882px;">22</div>
<div class="c" style="left:1542px;top:882px;">23</div>
<div class="c" style="left:1593px;top:882px;background:#e8eaf2;">24</div>
<div class="c" style="left:1644px;top:882px;background:#e8eaf2;">25</div>
<div class="c" style="left:1695px;top:882px;">26</div>
<div class="c" style="left:1746px;top:882px;">27</div>
<div class="c" style="left:1797px;top:882px;">28</div>
<div class="c" style="left:1848px;top:882px;">29</div>
<div class="c" style="left:1899px;top:882px;">30</div>
<div class="c" style="left:1950px;top:882px;background:#e8eaf2;">31</div>
<div class="c" style="left:2001px;top:882px;background:#e8eaf2;"></div>
<div class="a" style="left:573px;top:882px;width:252px;height:36px;box-shadow:inset 0 0 0 1.5px #d8160e;border-radius:12px;"></div>
<div class="a" style="left:144px;top:930px;width:120px;height:36px;background:#fff;"></div>
<div class="t" style="left:156px;top:937.76px;font-size:18px;line-height:22px;font-weight:700;color:#343a58;">September</div>
<div class="c" style="left:267px;top:930px;">1</div>
<div class="c" style="left:318px;top:930px;">2</div>
<div class="c" style="left:369px;top:930px;">3</div>
<div class="c" style="left:420px;top:930px;">4</div>
<div class="c" style="left:471px;top:930px;">5</div>
<div class="c" style="left:522px;top:930px;background:#e8eaf2;">6</div>
<div class="c" style="left:573px;top:930px;background:#e8eaf2;">7</div>
<div class="c" style="left:624px;top:930px;">8</div>
<div class="c" style="left:675px;top:930px;">9</div>
<div class="c" style="left:726px;top:930px;">10</div>
<div class="c" style="left:777px;top:930px;">11</div>
<div class="c" style="left:828px;top:930px;">12</div>
<div class="c" style="left:879px;top:930px;background:#e8eaf2;">13</div>
<div class="c" style="left:930px;top:930px;background:#e8eaf2;">14</div>
<div class="c" style="left:981px;top:930px;">15</div>
<div class="c" style="left:1032px;top:930px;">16</div>
<div class="c" style="left:1083px;top:930px;">17</div>
<div class="c" style="left:1134px;top:930px;">18</div>
<div class="c" style="left:1185px;top:930px;">19</div>
<div class="c" style="left:1236px;top:930px;background:#e8eaf2;">20</div>
<div class="c" style="left:1287px;top:930px;background:#e8eaf2;">21</div>
<div class="c" style="left:1338px;top:930px;">22</div>
<div class="c" style="left:1389px;top:932px;height:32px;background:#e6fde1;border-radius:6px;">23</div>
<div class="c" style="left:1440px;top:932px;height:32px;background:#e6fde1;border-radius:6px;">24</div>
<div class="c" style="left:1491px;top:932px;height:32px;background:#e6fde1;border-radius:6px;">25</div>
<div class="c" style="left:1542px;top:932px;height:32px;background:#e6fde1;border-radius:6px;">26</div>
<div class="c" style="left:1593px;top:932px;height:32px;background:#e6fde1;border-radius:6px;">27</div>
<div class="c" style="left:1644px;top:930px;">28</div>
<div class="c" style="left:1695px;top:930px;">29</div>
<div class="c" style="left:1746px;top:930px;">30</div>
<div class="c" style="left:1950px;top:930px;background:#e8eaf2;"></div>
<div class="c" style="left:2001px;top:930px;background:#e8eaf2;"></div>
<div class="a" style="left:1389px;top:930px;width:252px;height:36px;box-shadow:inset 0 0 0 1.5px #14891a;border-radius:12px;"></div>
<div class="a" style="left:144px;top:978px;width:120px;height:36px;background:#fff;"></div>
<div class="t" style="left:156px;top:985.76px;font-size:18px;line-height:22px;font-weight:700;color:#343a58;">Oktober</div>
<div class="c" style="left:369px;top:978px;">1</div>
<div class="c" style="left:420px;top:978px;">2</div>
<div class="c" style="left:471px;top:978px;">3</div>
<div class="c" style="left:522px;top:978px;background:#e8eaf2;">4</div>
<div class="c" style="left:573px;top:978px;background:#e8eaf2;">5</div>
<div class="c" style="left:624px;top:978px;">6</div>
<div class="c" style="left:675px;top:978px;">7</div>
<div class="c" style="left:726px;top:978px;">8</div>
<div class="c" style="left:777px;top:978px;">9</div>
<div class="c" style="left:828px;top:978px;">10</div>
<div class="c" style="left:879px;top:978px;background:#e8eaf2;">11</div>
<div class="c" style="left:930px;top:978px;background:#e8eaf2;">12</div>
<div class="c" style="left:981px;top:978px;">13</div>
<div class="c" style="left:1032px;top:978px;">14</div>
<div class="c" style="left:1083px;top:978px;background:#fff6dc;box-shadow:inset 0 0 0 1.5px #f8c22b;">15</div>
<div class="c" style="left:1134px;top:978px;">16</div>
<div class="c" style="left:1185px;top:978px;">17</div>
<div class="c" style="left:1236px;top:978px;background:#e8eaf2;">18</div>
<div class="c" style="left:1287px;top:978px;background:#e8eaf2;">19</div>
<div class="c" style="left:1338px;top:978px;">20</div>
<div class="c" style="left:1389px;top:978px;">21</div>
<div class="c" style="left:1440px;top:978px;">22</div>
<div class="c" style="left:1491px;top:978px;">23</div>
<div class="c" style="left:1542px;top:978px;">24</div>
<div class="c" style="left:1593px;top:978px;background:#e8eaf2;">25</div>
<div class="c" style="left:1644px;top:978px;background:#e8eaf2;">26</div>
<div class="c" style="left:1695px;top:978px;">27</div>
<div class="c" style="left:1746px;top:978px;">28</div>
<div class="c" style="left:1797px;top:978px;">29</div>
<div class="c" style="left:1848px;top:978px;">30</div>
<div class="c" style="left:1899px;top:978px;">31</div>
<div class="c" style="left:1950px;top:978px;background:#e8eaf2;"></div>
<div class="c" style="left:2001px;top:978px;background:#e8eaf2;"></div>
<div class="a" style="left:144px;top:1026px;width:120px;height:36px;background:#fff;"></div>
<div class="t" style="left:156px;top:1033.76px;font-size:18px;line-height:22px;font-weight:700;color:#343a58;">November</div>
<div class="c" style="left:522px;top:1026px;background:#e8eaf2;">1</div>
<div class="c" style="left:573px;top:1026px;background:#e8eaf2;">2</div>
<div class="c" style="left:624px;top:1026px;">3</div>
<div class="c" style="left:675px;top:1026px;">4</div>
<div class="c" style="left:726px;top:1026px;">5</div>
<div class="c" style="left:777px;top:1026px;">6</div>
<div class="c" style="left:828px;top:1026px;">7</div>
<div class="c" style="left:879px;top:1026px;background:#e8eaf2;">8</div>
<div class="c" style="left:930px;top:1026px;background:#e8eaf2;">9</div>
<div class="c" style="left:981px;top:1026px;">10</div>
<div class="c" style="left:1032px;top:1026px;">11</div>
<div class="c" style="left:1083px;top:1026px;">12</div>
<div class="c" style="left:1134px;top:1026px;">13</div>
<div class="c" style="left:1185px;top:1026px;">14</div>
<div class="c" style="left:1236px;top:1026px;background:#e8eaf2;">15</div>
<div class="c" style="left:1287px;top:1026px;background:#e8eaf2;">16</div>
<div class="c" style="left:1338px;top:1026px;">17</div>
<div class="c" style="left:1389px;top:1026px;">18</div>
<div class="c" style="left:1440px;top:1026px;">19</div>
<div class="c" style="left:1491px;top:1026px;">20</div>
<div class="c" style="left:1542px;top:1026px;">21</div>
<div class="c" style="left:1593px;top:1026px;background:#e8eaf2;">22</div>
<div class="c" style="left:1644px;top:1026px;background:#e8eaf2;">23</div>
<div class="c" style="left:1695px;top:1026px;background:#d6dcf7;box-shadow:inset 0 0 0 1.5px #4a69e9;">24</div>
<div class="c" style="left:1746px;top:1026px;">25</div>
<div class="c" style="left:1797px;top:1026px;">26</div>
<div class="c" style="left:1848px;top:1026px;">27</div>
<div class="c" style="left:1899px;top:1026px;">28</div>
<div class="c" style="left:1950px;top:1026px;background:#e8eaf2;">29</div>
<div class="c" style="left:2001px;top:1026px;background:#e8eaf2;">30</div>
<div class="a" style="left:144px;top:1074px;width:120px;height:36px;background:#fff;"></div>
<div class="t" style="left:156px;top:1081.76px;font-size:18px;line-height:22px;font-weight:700;color:#343a58;">December</div>
<div class="c" style="left:267px;top:1074px;">1</div>
<div class="c" style="left:318px;top:1074px;">2</div>
<div class="c" style="left:369px;top:1074px;">3</div>
<div class="c" style="left:420px;top:1074px;">4</div>
<div class="c" style="left:471px;top:1074px;">5</div>
<div class="c" style="left:522px;top:1074px;background:#e8eaf2;">6</div>
<div class="c" style="left:573px;top:1074px;background:#e8eaf2;">7</div>
<div class="c" style="left:624px;top:1074px;">8</div>
<div class="c" style="left:675px;top:1076px;height:32px;background:#e6fde1;border-radius:6px;">9</div>
<div class="c" style="left:726px;top:1076px;height:32px;background:#e6fde1;border-radius:6px;">10</div>
<div class="c" style="left:777px;top:1076px;height:32px;background:#e6fde1;border-radius:6px;">11</div>
<div class="c" style="left:828px;top:1074px;">12</div>
<div class="c" style="left:879px;top:1074px;background:#e8eaf2;">13</div>
<div class="c" style="left:930px;top:1074px;background:#e8eaf2;">14</div>
<div class="c" style="left:981px;top:1074px;">15</div>
<div class="c" style="left:1032px;top:1074px;">16</div>
<div class="c" style="left:1083px;top:1074px;">17</div>
<div class="c" style="left:1134px;top:1074px;">18</div>
<div class="c" style="left:1185px;top:1074px;">19</div>
<div class="c" style="left:1236px;top:1074px;background:#e8eaf2;">20</div>
<div class="c" style="left:1287px;top:1074px;background:#e8eaf2;">21</div>
<div class="c" style="left:1338px;top:1074px;">22</div>
<div class="c" style="left:1389px;top:1074px;">23</div>
<div class="c" style="left:1440px;top:1074px;">24</div>
<div class="c" style="left:1491px;top:1074px;background:#a6abd1;">25</div>
<div class="c" style="left:1542px;top:1074px;background:#a6abd1;">26</div>
<div class="c" style="left:1593px;top:1074px;background:#e8eaf2;">27</div>
<div class="c" style="left:1644px;top:1074px;">28</div>
<div class="c" style="left:1695px;top:1074px;">29</div>
<div class="c" style="left:1746px;top:1074px;">30</div>
<div class="c" style="left:1797px;top:1074px;">31</div>
<div class="c" style="left:1950px;top:1074px;background:#e8eaf2;"></div>
<div class="c" style="left:2001px;top:1074px;background:#e8eaf2;"></div>
<div class="a" style="left:675px;top:1074px;width:150px;height:36px;box-shadow:inset 0 0 0 1.5px #14891a;border-radius:12px;"></div>
<div class="a" style="left:144px;top:1146px;width:1002px;height:48px;background:#fff;border-radius:16px;"></div>
<div class="a" style="left:168px;top:1158px;width:24px;height:24px;background:#ff6000;border-radius:8px;"></div>
<div class="t" style="left:205px;top:1159.09px;font-size:18.5px;line-height:23px;font-weight:400;color:#343a58;">Vandaag</div>
<div class="a" style="left:303px;top:1158px;width:24px;height:24px;background:#a6abd1;border-radius:8px;"></div>
<div class="t" style="left:340px;top:1159.09px;font-size:18.5px;line-height:23px;font-weight:400;color:#343a58;">Feestdag</div>
<div class="a" style="left:442px;top:1158px;width:24px;height:24px;background:#d6dcf7;box-shadow:inset 0 0 0 1.5px #4a69e9;border-radius:8px;"></div>
<div class="t" style="left:479px;top:1159.09px;font-size:18.5px;line-height:23px;font-weight:400;color:#343a58;">Aangevraagd</div>
<div class="a" style="left:616px;top:1158px;width:24px;height:24px;background:#fff6dc;box-shadow:inset 0 0 0 1.5px #f8c22b;border-radius:8px;"></div>
<div class="t" style="left:653px;top:1159.09px;font-size:18.5px;line-height:23px;font-weight:400;color:#343a58;">Zonder aanvraag</div>
<div class="a" style="left:822px;top:1158px;width:24px;height:24px;background:#e6fde1;box-shadow:inset 0 0 0 1.5px #14891a;border-radius:8px;"></div>
<div class="t" style="left:859px;top:1159.09px;font-size:18.5px;line-height:23px;font-weight:400;color:#343a58;">Goedgekeurd</div>
<div class="a" style="left:997px;top:1158px;width:24px;height:24px;background:#fdeaea;box-shadow:inset 0 0 0 1.5px #d8160e;border-radius:8px;"></div>
<div class="t" style="left:1034px;top:1159.09px;font-size:18.5px;line-height:23px;font-weight:400;color:#343a58;">Afgekeurd</div>
<div class="a" style="left:1401px;top:684px;width:280px;height:228px;background:#353a57;border-radius:7px;"></div>
<svg style="left:1389px;top:692px" width="14" height="32" viewBox="0 0 14 32"><path d="M13 3.7L0.25 16L13 27.3Z" fill="#353a57"/></svg>
<div class="a" style="left:1413px;top:696px;width:160px;height:48px;background:#e6fde1;border-radius:9px;"></div>
<div class="t" style="left:1426px;top:706.88px;font-size:22px;line-height:28px;font-weight:400;color:#0b6a0b;">Goedgekeurd</div>
<svg style="left:1421px;top:762px" width="22" height="26" viewBox="0 0 22 26">
<circle cx="10" cy="7.5" r="6"/><rect x="8.75" y="13" width="2.5" height="10" rx="1.2" fill="#fff"/>
<circle cx="10" cy="7.5" r="6" fill="#fff"/><path d="M6.3 7.6A3.8 3.8 0 0 1 9.6 3.9" stroke="#353a57" stroke-width="1" fill="none"/></svg>
<div class="t" style="left:1462px;top:761.38px;font-size:22px;line-height:28px;font-weight:400;color:#fff;">Vakantie Nederland</div>
<svg style="left:1421px;top:801px" width="22" height="20" viewBox="0 0 22 20" fill="none" stroke="#fff" stroke-width="2" stroke-linejoin="round">
<path d="M3 1.8H8.2L11 4.6H18Q19.6 4.6 19.6 6.2V15.2Q19.6 16.8 18 16.8H3Q1.6 16.8 1.6 15.2V3.2Q1.6 1.8 3 1.8Z"/><path d="M1.6 8.6H19.6"/></svg>
<div class="t" style="left:1462px;top:797.38px;font-size:22px;line-height:28px;font-weight:400;color:#fff;">Wettelijk 2025</div>
<svg style="left:1421px;top:835px" width="22" height="24" viewBox="0 0 22 24">
<path d="M6.5 0.5V4.5M14.5 0.5V4.5" stroke="#fff" stroke-width="2" stroke-linecap="round"/>
<rect x="2" y="4" width="17" height="17.5" rx="2" fill="none" stroke="#fff" stroke-width="2.2"/>
<rect x="1" y="3.5" width="19" height="6" rx="1.8" fill="#fff"/></svg>
<div class="t" style="left:1462px;top:833.38px;font-size:22px;line-height:28px;font-weight:400;color:#fff;">15 april - 20 april</div>
<svg style="left:1421px;top:872px" width="22" height="22" viewBox="0 0 22 22" fill="none" stroke="#fff" stroke-width="2.1" stroke-linecap="round">
<circle cx="10.5" cy="10.5" r="8.6"/><path d="M10.5 4.8V10.8L14.2 13.4"/></svg>
<div class="t" style="left:1462px;top:869.38px;font-size:22px;line-height:28px;font-weight:400;color:#fff;">40 uur aangevraagd</div>
<div class="a" style="left:2376px;top:168px;width:504px;height:1452px;background:#fff;border-top-left-radius:48px;box-shadow:-10px 0 36px rgba(30,30,50,0.05);"></div>
<div class="t" style="left:2424px;top:195.18px;font-size:24px;line-height:30px;font-weight:400;color:#343a58;letter-spacing:1.2px;-webkit-text-stroke:0.45px #343a58;">Toolbar</div>
<svg style="left:2808px;top:197px" width="24" height="23" viewBox="0 0 24 23" fill="none" stroke="#343a58" stroke-width="1.9" stroke-linecap="round" stroke-linejoin="round"><path d="M2.8 1.9L12.2 11.2L2.8 20.8M11.7 1.9L21.6 11.2L11.7 20.8"/></svg>
<div class="a" style="left:2376px;top:247px;width:504px;height:2px;background:#f1f2f7;"></div>
<svg style="left:2400px;top:280px" width="60" height="40" viewBox="0 0 60 40">
<g transform="rotate(20.8 25.8 19.9)"><path d="M15.65 19.9A10.15 8.6 0 0 1 35.95 19.9Z" fill="#343a58"/></g>
<path d="M20.6 19.2L25.2 9.5M31.4 23.2L32.6 12.5" stroke="#fff" stroke-width="1.5"/>
<path d="M24.8 22.2L22.5 29.8" stroke="#343a58" stroke-width="2.2"/>
<path d="M13.4 30.6H34.9" stroke="#343a58" stroke-width="2.2" stroke-linecap="round"/></svg>
<div class="t" style="left:2460px;top:287.68px;font-size:24px;line-height:30px;font-weight:400;color:#343a58;letter-spacing:1.05px;-webkit-text-stroke:0.45px #343a58;">Totaal vakantie budget</div>
<svg style="left:2820px;top:293px" width="24" height="15" viewBox="0 0 24 15" fill="none" stroke="#343a58" stroke-width="1.9" stroke-linecap="round" stroke-linejoin="round"><path d="M2.9 11.8L11.9 2L21.3 11.8"/></svg>
<div class="a" style="left:2400px;top:332px;width:456px;height:46px;background:#f4f5f9;"></div>
<div class="t" style="left:2424px;top:342.89px;font-size:18.5px;line-height:23px;font-weight:700;color:#343a58;">Beschikbaar</div>
<div class="t" style="right:49px;top:342.22px;font-size:19px;line-height:24px;font-weight:700;color:#343a58;">60 uur</div>
<div class="a" style="left:2546px;top:352px;width:6px;height:6px;background:#ff6000;border-radius:50%;"></div>
<div class="a" style="left:2400px;top:380px;width:456px;height:46px;background:#f4f5f9;"></div>
<div class="t" style="left:2424px;top:390.92px;font-size:19px;line-height:24px;font-weight:400;color:#343a58;">Begroot</div>
<div class="t" style="right:49px;top:390.92px;font-size:19px;line-height:24px;font-weight:400;color:#343a58;">200 uur</div>
<div class="a" style="left:2400px;top:428px;width:456px;height:46px;background:#f4f5f9;"></div>
<div class="t" style="left:2424px;top:438.92px;font-size:19px;line-height:24px;font-weight:400;color:#343a58;">Goedgekeurd</div>
<div class="t" style="right:49px;top:438.92px;font-size:19px;line-height:24px;font-weight:400;color:#343a58;">100 uur</div>
<div class="a" style="left:2552px;top:448px;width:6px;height:6px;background:#18911b;border-radius:50%;"></div>
<div class="a" style="left:2400px;top:476px;width:456px;height:46px;background:#f4f5f9;"></div>
<div class="t" style="left:2424px;top:486.92px;font-size:19px;line-height:24px;font-weight:400;color:#343a58;">Aangevraagd</div>
<div class="t" style="right:49px;top:486.92px;font-size:19px;line-height:24px;font-weight:400;color:#343a58;">40 uur</div>
<div class="a" style="left:2550px;top:496px;width:6px;height:6px;background:#3757e6;border-radius:50%;"></div>
<div class="a" style="left:2400px;top:524px;width:324px;height:46px;background:#e6fde1;"></div>
<div class="a" style="left:2724px;top:524px;width:45px;height:46px;background:#d3d9f6;"></div>
<div class="a" style="left:2769px;top:524px;width:87px;height:46px;background:#feeadf;"></div>
<div class="t" style="left:2062px;width:1000px;text-align:center;top:534.92px;font-size:19px;line-height:24px;font-weight:400;color:#1a7d1a;">402</div>
<div class="t" style="left:2246.5px;width:1000px;text-align:center;top:534.92px;font-size:19px;line-height:24px;font-weight:400;color:#3757e6;">40</div>
<div class="t" style="left:2312px;width:1000px;text-align:center;top:534.92px;font-size:19px;line-height:24px;font-weight:700;color:#ff6000;">82</div>
<div class="a" style="left:2400px;top:594px;width:456px;height:2px;background:#f0f1f6;"></div>
<svg style="left:2412px;top:634px" width="24" height="27" viewBox="0 0 24 26">
<path d="M12 1.5C13.2 1.5 14 2.4 14 3.4C17.5 4.4 19.6 7.4 19.6 11V16.5L22 19.6V20.8H2V19.6L4.4 16.5V11C4.4 7.4 6.5 4.4 10 3.4C10 2.4 10.8 1.5 12 1.5Z" fill="#343a58"/>
<path d="M9.2 22.3H14.8C14.8 23.9 13.5 25 12 25C10.5 25 9.2 23.9 9.2 22.3Z" fill="#343a58"/></svg>
<div class="t" style="left:2461px;top:633.13px;font-size:25.6px;line-height:32px;font-weight:400;color:#343a58;-webkit-text-stroke:0.45px #343a58;">Meldingen</div>
<svg style="left:2820px;top:639px" width="24" height="15" viewBox="0 0 24 15" fill="none" stroke="#343a58" stroke-width="1.9" stroke-linecap="round" stroke-linejoin="round"><path d="M2.9 11.8L11.9 2L21.3 11.8"/></svg>
<div class="a" style="left:2400px;top:688px;width:456px;height:210px;background:#fdeaea;border-radius:12px;"></div>
<svg style="left:2424px;top:713px" width="24" height="23" viewBox="0 0 24 23"><path d="M7 0.5H17L23.5 11.5L17 22.5H7L0.5 11.5Z" fill="#a30f0f"/><rect x="10.6" y="5" width="2.8" height="8" rx="1.2" fill="#fff"/><circle cx="12" cy="16.8" r="1.6" fill="#fff"/></svg>
<div class="t" style="left:2471px;top:711.55px;font-size:21.5px;line-height:27px;font-weight:700;color:#343a58;">Vakantie is afgekeurd door John</div>
<div class="t" style="left:2471px;top:748.92px;font-size:19px;line-height:24px;font-weight:400;color:#343a58;">Het bericht van de melding. Lorem Ipsum</div>
<div class="t" style="left:2471px;top:773.92px;font-size:19px;line-height:24px;font-weight:400;color:#343a58;">is simply dummy text of the printing and</div>
<div class="t" style="left:2471px;top:798.92px;font-size:19px;line-height:24px;font-weight:400;color:#343a58;">typesetting industry. Lorem Ipsum has</div>
<div class="t" style="left:2471px;top:823.92px;font-size:19px;line-height:24px;font-weight:400;color:#343a58;">been the industry's standard dummy text</div>
<div class="t" style="left:2471px;top:848.92px;font-size:19px;line-height:24px;font-weight:400;color:#343a58;">ever since the 1500s.</div>
<div class="a" style="left:2400px;top:911px;width:456px;height:209px;background:#fff6df;border-radius:12px;"></div>
<svg style="left:2424px;top:935px" width="24" height="24" viewBox="0 0 24 24"><circle cx="12" cy="12" r="12" fill="#fbbf0c"/><circle cx="12" cy="7" r="1.5" fill="#fff"/><path d="M9.5 10.5H12.8V16.5H14.3V18H9.5V16.5H11V12H9.5Z" fill="#fff"/></svg>
<div class="t" style="left:2471px;top:934.55px;font-size:21.5px;line-height:27px;font-weight:700;color:#343a58;">Een melding</div>
<div class="t" style="left:2471px;top:971.92px;font-size:19px;line-height:24px;font-weight:400;color:#343a58;">Het bericht van de melding. Lorem Ipsum</div>
<div class="t" style="left:2471px;top:996.92px;font-size:19px;line-height:24px;font-weight:400;color:#343a58;">is simply dummy text of the printing and</div>
<div class="t" style="left:2471px;top:1021.92px;font-size:19px;line-height:24px;font-weight:400;color:#343a58;">typesetting industry. Lorem Ipsum has</div>
<div class="t" style="left:2471px;top:1046.92px;font-size:19px;line-height:24px;font-weight:400;color:#343a58;">been the industry's standard dummy text</div>
<div class="t" style="left:2471px;top:1071.92px;font-size:19px;line-height:24px;font-weight:400;color:#343a58;">ever since the 1500s.</div>
<div class="a" style="left:2400px;top:1133px;width:195px;height:47px;background:#e7e9f2;border-radius:24px;"></div>
<div class="t" style="left:2425px;top:1143.38px;font-size:21.4px;line-height:27px;font-weight:700;color:#343a58;">Meer tonen</div>
<svg style="left:2553px;top:1151px" width="18" height="12" viewBox="0 0 18 12" fill="none" stroke="#343a58" stroke-width="1.8" stroke-linecap="round" stroke-linejoin="round"><path d="M2.6 3.4L9.1 9.6L15.6 3.4"/></svg>
<div class="a" style="left:2400px;top:1204px;width:456px;height:2px;background:#f0f1f6;"></div>
<svg style="left:2400px;top:1240px" width="40" height="32" viewBox="0 0 40 32" fill="#343a58">
<path d="M14.65 8.8H25.1Q27.6 8.8 27.6 11.3V18.1Q27.6 20.6 25.1 20.6H19.5L16.6 22.9L15.8 20.6H14.65Q12.15 20.6 12.15 18.1V11.3Q12.15 8.8 14.65 8.8Z"/>
<path d="M29.1 13.8H33.45Q35.75 13.8 35.75 16.1V22.8Q35.75 25.1 33.45 25.1H32L31.6 27.6L29 25.1H23.3Q21.8 25.1 21.8 23.6Q21.8 22.1 23.3 22.1H26.1Q29.1 22.1 29.1 19.1Z"/></svg>
<div class="t" style="left:2461px;top:1243.77px;font-size:25.2px;line-height:32px;font-weight:400;color:#343a58;-webkit-text-stroke:0.45px #343a58;">Berichten (1)</div>
<svg style="left:2820px;top:1251px" width="24" height="15" viewBox="0 0 24 15" fill="none" stroke="#343a58" stroke-width="1.9" stroke-linecap="round" stroke-linejoin="round"><path d="M2.9 11.8L11.9 2L21.3 11.8"/></svg>
<div class="a" style="left:2400px;top:1299px;width:456px;height:127px;background:#f4f5f9;border-radius:12px;"></div>
<div class="t" style="left:2424px;top:1323.22px;font-size:21px;line-height:26px;font-weight:700;color:#343a58;">Beheerder:</div>
<div class="t" style="right:49px;top:1324.92px;font-size:19px;line-height:24px;font-weight:400;color:#343a58;">Voor oktober 2023</div>
<div class="a" style="left:2424px;top:1360px;width:407px;height:2px;background:#e7e9f1;"></div>
<div class="t" style="left:2424px;top:1375.24px;font-size:22.4px;line-height:28px;font-weight:400;color:#343a58;">Lorem ipsum dolor sit amet</div>
<div class="a" style="left:2400px;top:1439px;width:456px;height:71px;box-shadow:inset 0 0 0 1.5px #adb3d8;border-radius:8px;background:#fff;"></div>
<div class="t" style="left:2424px;top:1461.20px;font-size:22.5px;line-height:28px;font-weight:400;color:#343a58;">Maand oktober, 2023</div>
<div class="a" style="left:2808px;top:1463px;width:24px;height:24px;background:#a6abd1;border-radius:50%;"></div>
<div class="a" style="left:2400px;top:1523px;width:456px;height:140px;box-shadow:inset 0 0 0 1.5px #adb3d8;border-radius:8px;background:#fff;"></div>
<div class="t" style="left:2424px;top:1545.70px;font-size:22.5px;line-height:28px;font-weight:400;color:#a6abd1;">Vul nieuw bericht in</div>
</body></html>
